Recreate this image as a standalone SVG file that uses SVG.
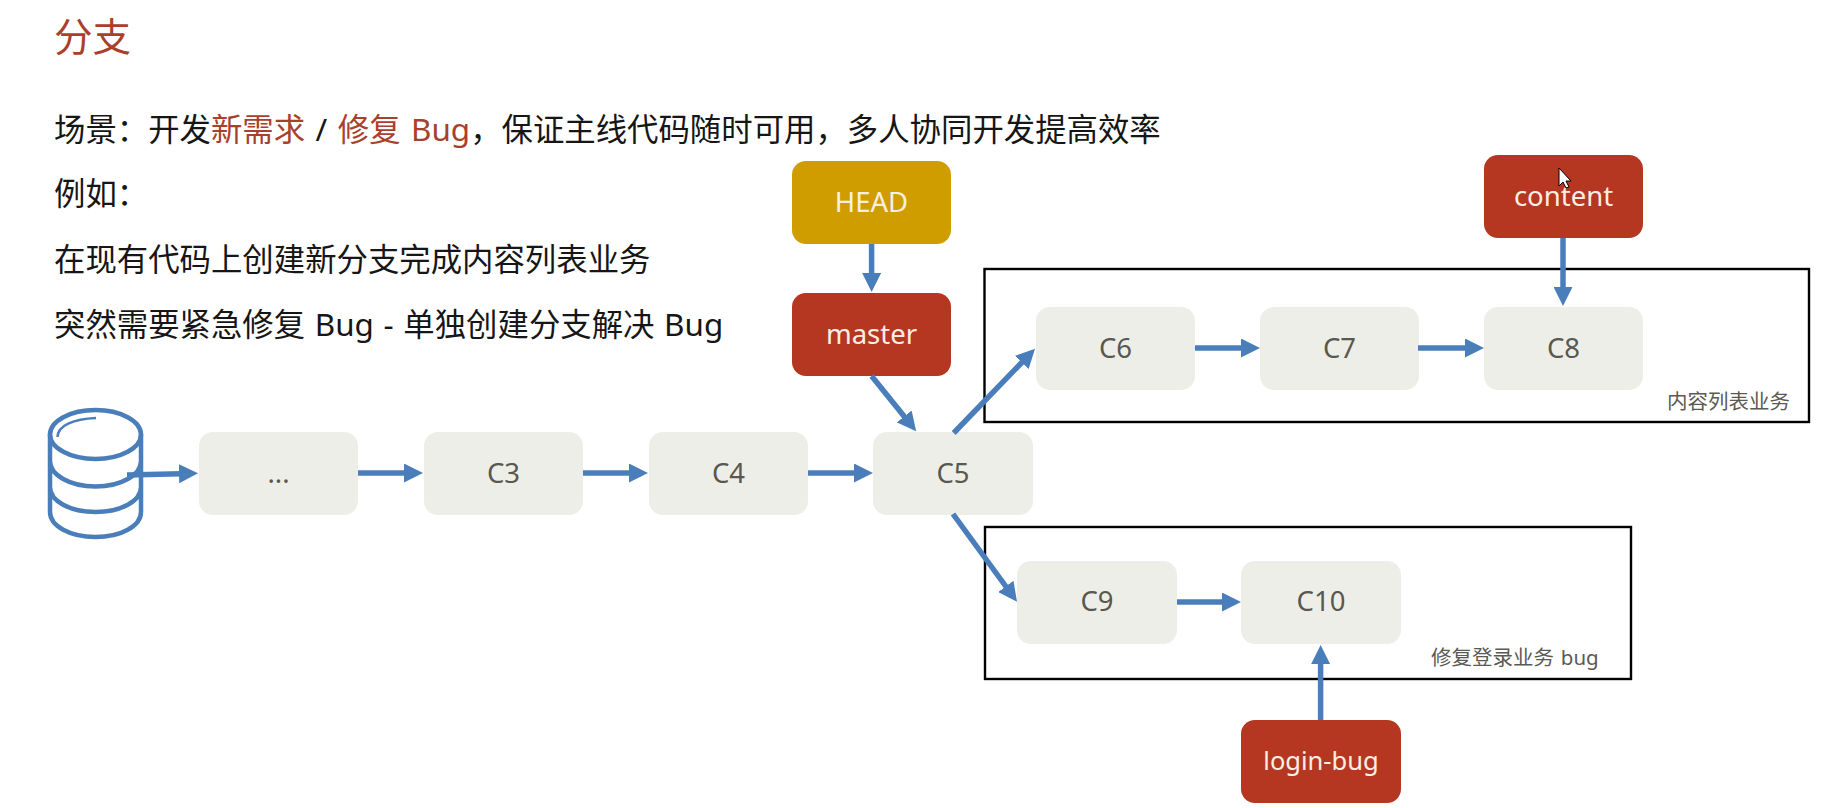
<svg xmlns="http://www.w3.org/2000/svg" width="1833" height="808" viewBox="0 0 1833 808">
<style>
text{font-family:"Noto Sans","Noto Sans CJK SC",sans-serif}
.body{font-size:31.4px;fill:#161616;word-spacing:2.3px}
.tight{word-spacing:1.5px}
.acc{fill:#a8402c}
.node{fill:#eeeee8}
.red{fill:#b53721}
.gold{fill:#d09d00}
.lbl{font-size:27.5px;text-anchor:middle}
.c{fill:#58584f}
.w{fill:#fbeee2}
.frame{fill:none;stroke:#000;stroke-width:2.4}
.cap{font-size:20.5px;fill:#5a5a55;word-spacing:1.500px}
.arr{fill:none;stroke:#4a7ebb;stroke-width:5.500;marker-end:url(#ah)}
.cyl{fill:none;stroke:#4a7ebb;stroke-width:4.500}
</style>
<defs>
<marker id="ah" markerUnits="userSpaceOnUse" markerWidth="19" markerHeight="19" refX="2" refY="9.500" orient="auto"><path d="M0 0L19 9.500L0 19Z" fill="#4a7ebb"/></marker>
</defs>
<rect width="1833" height="808" fill="#fff"/>
<g id="texts">
<text x="54" y="51" font-size="38.500" class="acc">分支</text>
<text x="54" y="141" class="body">场景：开发<tspan class="acc">新需求</tspan> / <tspan class="acc">修复 Bug</tspan>，保证主线代码随时可用，多人协同开发提高效率</text>
<text x="54" y="205" class="body">例如：</text>
<text x="54" y="271" class="body">在现有代码上创建新分支完成内容列表业务</text>
<text x="54" y="336" class="body tight">突然需要紧急修复 Bug - 单独创建分支解决 Bug</text>
</g>
<g id="frames">
<rect class="frame" x="984.5" y="269" width="824.5" height="153"/>
<text class="cap" x="1667" y="409">内容列表业务</text>
<rect class="frame" x="985" y="527" width="646" height="152"/>
<text class="cap" x="1431" y="665">修复登录业务 bug</text>
</g>
<g id="db">
<ellipse class="cyl" cx="95.500" cy="434.500" rx="45.500" ry="24.500"/>
<path class="cyl" d="M50 434V512C50 526 70 537 95.500 537S141 526 141 512V434M50 461C50 475 70 486.500 95.500 486.500S141 475 141 461M50 487C50 501 70 512 95.500 512S141 501 141 487"/>
<path d="M96 418C74 419 58 425 57.500 437" fill="none" stroke="#4a7ebb" stroke-width="2.500"/>
</g>
<g id="n0"><rect class="node" x="199" y="432" width="159" height="83" rx="14"/><text class="lbl c" x="278.500" y="483">...</text></g>
<g id="c3"><rect class="node" x="424" y="432" width="159" height="83" rx="14"/><text class="lbl c" x="503.500" y="483">C3</text></g>
<g id="c4"><rect class="node" x="649" y="432" width="159" height="83" rx="14"/><text class="lbl c" x="728.500" y="483">C4</text></g>
<g id="c5"><rect class="node" x="873" y="432" width="160" height="83" rx="14"/><text class="lbl c" x="953" y="483">C5</text></g>
<g id="c6"><rect class="node" x="1036" y="307" width="159" height="83" rx="14"/><text class="lbl c" x="1115.500" y="358">C6</text></g>
<g id="c7"><rect class="node" x="1260" y="307" width="159" height="83" rx="14"/><text class="lbl c" x="1339.500" y="358">C7</text></g>
<g id="c8"><rect class="node" x="1484" y="307" width="159" height="83" rx="14"/><text class="lbl c" x="1563.500" y="358">C8</text></g>
<g id="c9"><rect class="node" x="1017" y="561" width="160" height="83" rx="14"/><text class="lbl c" x="1097" y="611">C9</text></g>
<g id="c10"><rect class="node" x="1241" y="561" width="160" height="83" rx="14"/><text class="lbl c" x="1321" y="611">C10</text></g>
<g id="head"><rect class="gold" x="792" y="161" width="159" height="83" rx="14"/><text class="lbl w" x="871.500" y="212">HEAD</text></g>
<g id="master"><rect class="red" x="792" y="293" width="159" height="83" rx="14"/><text class="lbl w" x="871.500" y="344">master</text></g>
<g id="content"><rect class="red" x="1484" y="155" width="159" height="83" rx="14"/><text class="lbl w" x="1563.500" y="206">content</text></g>
<g id="login-bug"><rect class="red" x="1241" y="720" width="160" height="83" rx="14"/><text class="lbl w" x="1321" y="770" style="font-size:25.500px">login-bug</text></g>
<g id="connectors">
<path class="arr" d="M127 475L181 473.700"/>
<path class="arr" d="M358 473H406"/>
<path class="arr" d="M583 473H631"/>
<path class="arr" d="M808 473H856"/>
<path class="arr" d="M871.600 244V275"/>
<path class="arr" d="M871.600 376L905.500 418"/>
<path class="arr" d="M953.700 433L1023.200 361"/>
<path class="arr" d="M953 514L1007 588"/>
<path class="arr" d="M1195 348H1243"/>
<path class="arr" d="M1418 348H1467"/>
<path class="arr" d="M1563 238V289"/>
<path class="arr" d="M1177 602H1224"/>
<path class="arr" d="M1320.600 720V662"/>
</g>
<path id="cursor" d="M1559 168V186L1563 182L1566 188L1569 187L1566 181L1571 181Z" fill="#fff" stroke="#000" stroke-width="1"/>
</svg>
